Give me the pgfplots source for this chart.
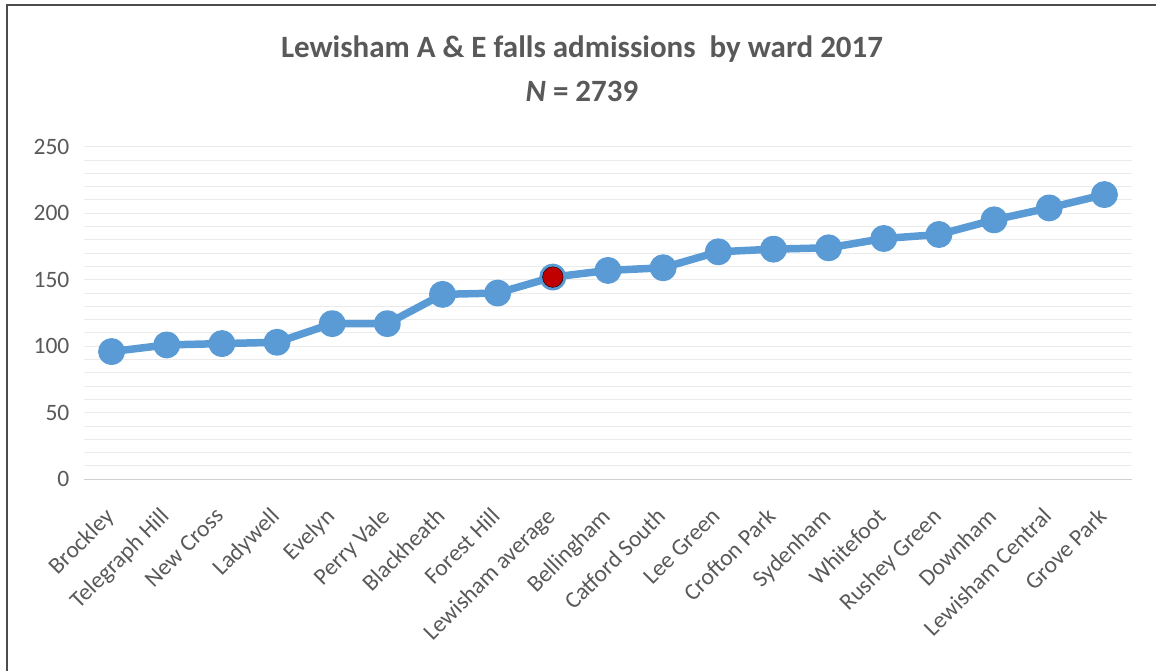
\documentclass[border=0pt]{standalone}
\usepackage{pgfplots}
\pgfplotsset{compat=1.18}
\usepackage{fontspec}
\setmainfont{Carlito}
\definecolor{lineblue}{HTML}{5B9BD5}
\definecolor{avgred}{HTML}{C00000}
\definecolor{txtgray}{HTML}{595959}
\definecolor{gridgray}{HTML}{EBEBEB}
\definecolor{axisgray}{HTML}{D0D0D0}
\begin{document}
\begin{tikzpicture}
\useasboundingbox (-84bp,-191.7bp) rectangle (1072bp,479.3bp);
\draw[line width=1.6bp, color=black!70] (-77bp,-195bp) -- (-77bp,474.3bp) -- (1075bp,474.3bp);
\begin{axis}[
  at={(0bp,0bp)}, anchor=south west,
  scale only axis,
  width=1048bp, height=332.6bp,
  xmin=-0.5, xmax=18.5,
  ymin=0, ymax=250,
  axis x line=bottom, axis y line=left,
  x axis line style={-, draw=axisgray, line width=1.2bp},
  y axis line style={draw=none},
  tick style={draw=none},
  ytick={0,50,...,250},
  minor y tick num=4,
  ymajorgrids, yminorgrids,
  major grid style={draw=gridgray, line width=1bp},
  minor grid style={draw=gridgray, line width=1bp},
  xtick={0,...,18},
  xticklabels={Brockley,Telegraph Hill,New Cross,Ladywell,Evelyn,Perry Vale,Blackheath,Forest Hill,Lewisham average,Bellingham,Catford South,Lee Green,Crofton Park,Sydenham,Whitefoot,Rushey Green,Downham,Lewisham Central,Grove Park},
  xticklabel style={xshift=-8bp, yshift=-22bp, rotate=45, anchor=north east, font=\fontsize{23.5bp}{26bp}\selectfont, text=txtgray, inner sep=2bp},
  yticklabel style={font=\fontsize{23.5bp}{26bp}\selectfont, text=txtgray, xshift=-9bp},
  /pgf/number format/assume math mode=true,
  clip=false,
]
\addplot[color=lineblue, line width=7.5bp, line join=round, mark=*, mark size=9.7bp, mark options={fill=lineblue, draw=none}] coordinates {
(0,96) (1,101) (2,102) (3,103) (4,117) (5,117) (6,139) (7,140) (8,152) (9,157) (10,159) (11,171) (12,173) (13,174) (14,181) (15,184) (16,195) (17,204) (18,214)
};
\addplot[only marks, mark=*, mark size=10.3bp, mark options={fill=avgred, draw=none}] coordinates {(8,152)};
\end{axis}
\node[anchor=base, text=txtgray, font=\bfseries\fontsize{31bp}{38bp}\selectfont] at (498bp,421.3bp) {Lewisham A \& E falls admissions~ by ward 2017};
\node[anchor=base, text=txtgray, font=\bfseries\fontsize{31bp}{38bp}\selectfont] at (498bp,378bp) {\textit{N} = 2739};
\end{tikzpicture}
\end{document}
